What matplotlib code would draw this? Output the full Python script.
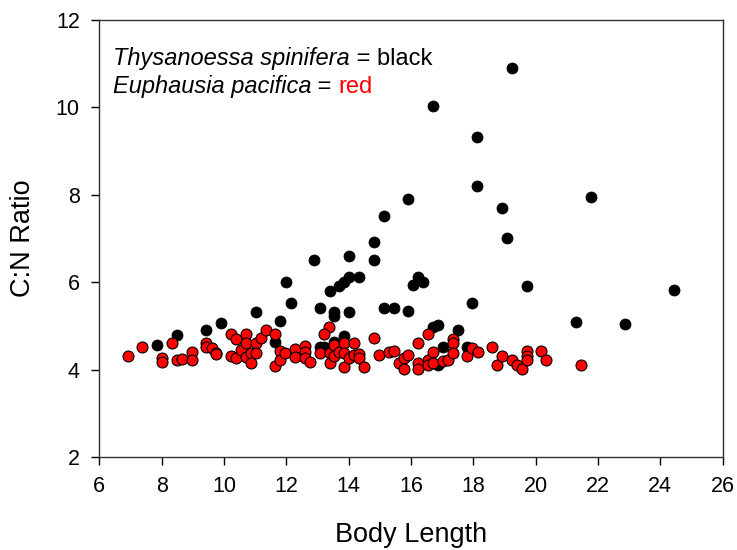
import matplotlib
matplotlib.use('Agg')
import matplotlib.pyplot as plt

plt.rcParams['font.family'] = ['Liberation Sans', 'DejaVu Sans']

# Thysanoessa spinifera (black)
ts_length = [19.24, 16.70, 18.13, 18.13, 18.92, 21.77, 15.92, 15.12, 19.07, 14.80,
             14.80, 12.90, 14.02, 14.34, 14.02, 13.85, 13.70, 13.39, 11.99, 16.23,
             16.07, 16.39, 19.71, 24.44, 12.14, 11.02, 11.80, 9.90, 9.43, 8.48,
             7.86, 11.65, 13.07, 13.54, 13.54, 14.02, 15.13, 15.44, 15.91, 17.97,
             16.88, 16.72, 17.50, 13.86, 13.08, 13.22, 13.54, 17.02, 17.80, 16.88,
             21.29, 22.87]
ts_cn = [10.91, 10.04, 9.32, 8.21, 7.71, 7.95, 7.91, 7.52, 7.01, 6.91,
         6.52, 6.52, 6.61, 6.11, 6.11, 6.01, 5.91, 5.81, 6.01, 6.13,
         5.94, 6.00, 5.91, 5.82, 5.52, 5.31, 5.11, 5.06, 4.91, 4.79,
         4.56, 4.64, 5.42, 5.31, 5.23, 5.31, 5.42, 5.42, 5.35, 5.52,
         5.02, 4.97, 4.91, 4.78, 4.52, 4.52, 4.64, 4.52, 4.52, 4.10,
         5.09, 5.04]

# Euphausia pacifica (red)
ep_length = [6.91, 7.38, 8.34, 8.02, 8.02, 8.50, 8.66, 8.97, 8.97, 9.43,
             9.43, 9.62, 9.75, 9.75, 10.24, 10.24, 10.39, 10.39, 10.55, 10.71,
             10.71, 10.71, 10.87, 10.87, 11.02, 11.02, 11.18, 11.34, 11.65, 11.65,
             11.80, 11.80, 11.97, 12.29, 12.29, 12.60, 12.60, 12.60, 13.38, 13.22,
             12.76, 13.07, 13.39, 13.39, 13.54, 13.54, 13.70, 13.86, 13.86, 13.86,
             14.02, 14.18, 14.18, 14.34, 14.34, 14.49, 14.81, 14.96, 15.28, 15.44,
             15.60, 15.77, 15.77, 15.91, 16.23, 16.23, 16.23, 16.56, 16.56, 16.56,
             16.72, 16.72, 17.04, 17.19, 17.35, 17.35, 17.35, 17.81, 17.97, 18.14,
             18.60, 18.76, 18.92, 19.23, 19.39, 19.55, 19.71, 19.71, 19.71, 20.17,
             20.33, 21.44]
ep_cn = [4.31, 4.51, 4.62, 4.27, 4.17, 4.22, 4.24, 4.41, 4.21, 4.62,
         4.51, 4.49, 4.39, 4.36, 4.81, 4.32, 4.70, 4.26, 4.45, 4.81,
         4.62, 4.30, 4.37, 4.16, 4.62, 4.39, 4.72, 4.91, 4.81, 4.08,
         4.42, 4.22, 4.39, 4.47, 4.30, 4.55, 4.41, 4.26, 4.98, 4.81,
         4.17, 4.37, 4.39, 4.16, 4.56, 4.31, 4.41, 4.62, 4.39, 4.05,
         4.26, 4.62, 4.33, 4.36, 4.26, 4.05, 4.72, 4.33, 4.41, 4.43,
         4.16, 4.26, 4.01, 4.33, 4.60, 4.16, 4.01, 4.81, 4.22, 4.10,
         4.41, 4.16, 4.20, 4.22, 4.69, 4.60, 4.37, 4.31, 4.49, 4.41,
         4.52, 4.10, 4.31, 4.21, 4.11, 4.01, 4.42, 4.31, 4.21, 4.42,
         4.21, 4.11]

xticks = list(range(6, 27, 2))
yticks = list(range(2, 13, 2))

fig = plt.figure(figsize=(7.37, 5.5), dpi=100)
ax = fig.add_axes([0.1347, 0.169, 0.8459, 0.7946])

ax.scatter(ts_length, ts_cn, s=62, c='black', edgecolors='black', linewidths=0.6, zorder=2)
ax.scatter(ep_length, ep_cn, s=62, c='#ff0000', edgecolors='black', linewidths=0.8, zorder=3)

ax.set_xlim(6, 26)
ax.set_ylim(2, 12)
ax.set_xticks(xticks)
ax.set_yticks(yticks)
ax.tick_params(direction='out', length=6, width=1, labelsize=15.5, pad=8)
for sp in ax.spines.values():
    sp.set_linewidth(1)
    sp.set_color('#333333')

ax.set_xlabel('Body Length', fontsize=19.5, labelpad=18)
ax.set_ylabel('C:N Ratio', fontsize=19.5, labelpad=14)

# species key in the top-left corner
key_size = 17
ax.text(0.022, 0.897, 'Thysanoessa spinifera', style='italic', fontsize=key_size,
        transform=ax.transAxes, va='baseline')
ax.text(0.022, 0.834, 'Euphausia pacifica', style='italic', fontsize=key_size,
        transform=ax.transAxes, va='baseline')
ax.annotate(' = black', xy=(1, 0), xycoords=ax.texts[0], fontsize=key_size, va='bottom')
ax.annotate(' = ', xy=(1, 0), xycoords=ax.texts[1], fontsize=key_size, va='bottom')
ax.annotate('red', xy=(1, 0), xycoords=ax.texts[-1], fontsize=key_size, va='bottom', color='#ff0000')

fig.savefig('out.png', dpi=100)
